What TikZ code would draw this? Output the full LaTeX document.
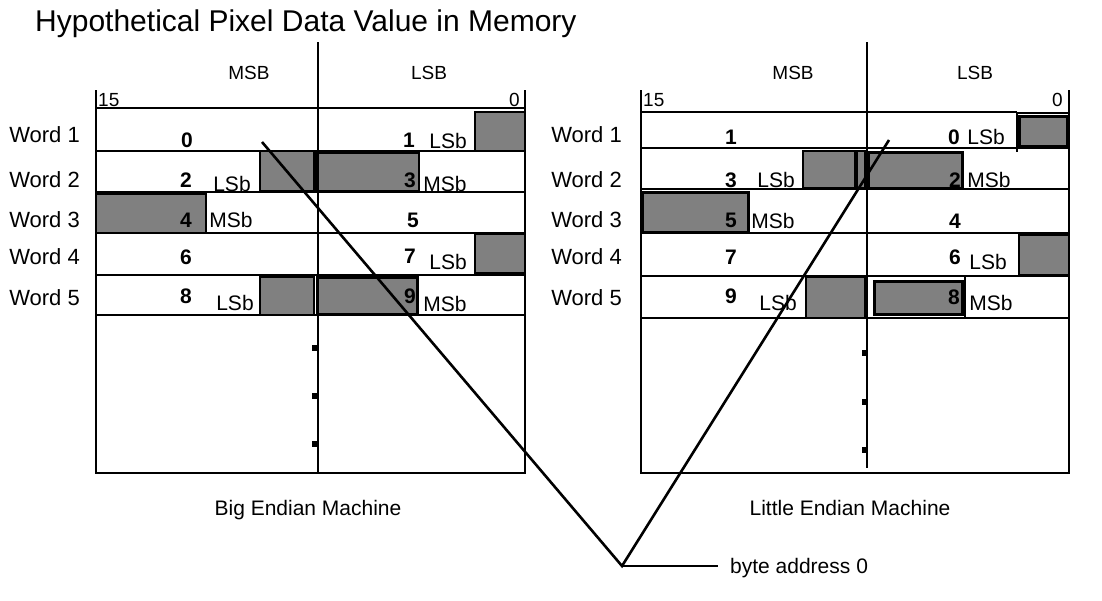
\documentclass[tikz,border=0pt]{standalone}
\usepackage{fontspec}
\setmainfont{Liberation Sans}
\definecolor{cellgray}{RGB}{128,128,128}
\begin{document}
\begin{tikzpicture}[x=1pt,y=-1pt,
  frame/.style={line width=2pt},
  rowline/.style={line width=2pt},
  grayc/.style={fill=cellgray,draw=black,line width=1.5pt},
  graythick/.style={fill=cellgray,draw=black,line width=3pt},
  txt/.style={inner sep=0pt,font=\fontsize{21}{25}\selectfont},
  wlab/.style={inner sep=0pt,anchor=east,font=\fontsize{22}{26}\selectfont},
  num/.style={inner sep=0pt,font=\fontsize{21}{25}\selectfont\bfseries},
  small/.style={inner sep=0pt,font=\fontsize{19}{23}\selectfont},
  tick/.style={fill=black},
  conn/.style={line width=2.6pt}]
\useasboundingbox (0,0) rectangle (1102,600);
\fill[white] (0,0) rectangle (1102,600);

% title
\node[inner sep=0pt,anchor=base west,font=\fontsize{30}{34}\selectfont] (title) at (35,31) {Hypothetical Pixel Data Value in Memory};

% ================= Big endian panel =================
\draw[grayc] (475,112) rectangle (525,151);
\draw[grayc] (260,151) rectangle (314,191);
\draw[grayc] (318,153) rectangle (419,191);
\draw[grayc] (96,194) rectangle (206,233);
\draw[grayc] (475,234) rectangle (525,273);
\draw[grayc] (260,277) rectangle (314,315);
\draw[graythick] (317,277) rectangle (417,314);
\foreach \y in {108,151,192,233,274.5,315} \draw[rowline] (96,\y) -- (525,\y);
\draw[line width=3pt] (316,151) -- (316,191);
\draw[frame] (96,90) -- (96,473) -- (525,473) -- (525,90);
\draw[frame] (318,42) -- (318,473);
\foreach \y in {348,396,444} \fill[tick] (312,\y-3) rectangle (318,\y+3);
\node[small] (bmsb) at (249,73) {MSB};
\node[small] (blsb) at (429,73) {LSB};
\node[small,anchor=west] (b15) at (98,100) {15};
\node[small,anchor=east] (b0) at (520,100) {0};
\node[wlab] (bw1) at (80,135) {Word 1};
\node[wlab] (bw2) at (80,180) {Word 2};
\node[wlab] (bw3) at (80,220) {Word 3};
\node[wlab] (bw4) at (80,257) {Word 4};
\node[wlab] (bw5) at (80,298) {Word 5};
\node[num] (bb0) at (187,140) {0};
\node[num] (bb1) at (409,140) {1};
\node[txt] (bl1) at (448,141) {LSb};
\node[num] (bb2) at (186,180) {2};
\node[txt] (bl2) at (232,184) {LSb};
\node[num] (bb3) at (410,180) {3};
\node[txt] (bm3) at (445,184) {MSb};
\node[num] (bb4) at (186,220) {4};
\node[txt] (bm4) at (231,220) {MSb};
\node[num] (bb5) at (413,220) {5};
\node[num] (bb6) at (186,257) {6};
\node[num] (bb7) at (410,256) {7};
\node[txt] (bl7) at (448,262) {LSb};
\node[num] (bb8) at (186,296) {8};
\node[txt] (bl8) at (235,303) {LSb};
\node[num] (bb9) at (410,296) {9};
\node[txt] (bm9) at (445,304) {MSb};
\node[txt,anchor=base] (bcap) at (308,515) {Big Endian Machine};

% ================= Little endian panel =================
\draw[graythick] (1019,116) rectangle (1067,146);
\draw[grayc] (803,151) rectangle (855,188);
\draw[grayc] (857,151) rectangle (865,188);
\draw[graythick] (868,152) rectangle (962,188);
\draw[graythick] (642,192) rectangle (748,232);
\draw[grayc] (1019,235) rectangle (1069,275);
\draw[grayc] (806,277) rectangle (865,318);
\draw[graythick] (874,281) rectangle (962,314);
\foreach \y in {148,189,233,276,318} \draw[rowline] (641,\y) -- (1069,\y);
\draw[rowline] (641,112) -- (1017,112);
\draw[line width=1.2pt] (1017,113) -- (1069,113);
\draw[line width=1.5pt] (1017,112) -- (1017,152);
\draw[line width=3pt] (866,277) -- (866,318);
\draw[line width=1.5pt] (965,277) -- (965,318);
\draw[frame] (641,90) -- (641,473) -- (1069,473) -- (1069,90);
\draw[frame] (867,42) -- (867,468);
\foreach \y in {353,402,450} \fill[tick] (862,\y-3) rectangle (867,\y+3);
\node[small] (lmsb) at (793,73) {MSB};
\node[small] (llsb) at (975,73) {LSB};
\node[small,anchor=west] (l15) at (643,100) {15};
\node[small,anchor=east] (l0) at (1063,100) {0};
\node[wlab] (lw1) at (622,135) {Word 1};
\node[wlab] (lw2) at (622,180) {Word 2};
\node[wlab] (lw3) at (622,220) {Word 3};
\node[wlab] (lw4) at (622,257) {Word 4};
\node[wlab] (lw5) at (622,298) {Word 5};
\node[num] (lb1) at (731,137) {1};
\node[num] (lb0) at (954,137) {0};
\node[txt] (ll0) at (986,137) {LSb};
\node[num] (lb3) at (731,180) {3};
\node[txt] (ll3) at (776,180) {LSb};
\node[num] (lb2) at (955,180) {2};
\node[txt] (lm2) at (989,180) {MSb};
\node[num] (lb5) at (731,220) {5};
\node[txt] (lm5) at (773,221) {MSb};
\node[num] (lb4) at (955,221) {4};
\node[num] (lb7) at (731,257) {7};
\node[num] (lb6) at (955,257) {6};
\node[txt] (ll6) at (988,262) {LSb};
\node[num] (lb9) at (731,296) {9};
\node[txt] (ll9) at (778,303) {LSb};
\node[num] (lb8) at (954,297) {8};
\node[txt] (lm8) at (991,303) {MSb};
\node[txt,anchor=base] (lcap) at (850,515) {Little Endian Machine};

% ================= byte address connectors =================
\coordinate (be0) at (262,142);
\coordinate (le0) at (889,140);
\coordinate (ba) at (622,566);
\coordinate (baend) at (718,566);
\node[txt,anchor=base west] (batext) at (730,573) {byte address 0};
\draw[conn,line join=miter] (be0) -- (ba) -- (le0);
\draw[line width=2pt] (ba) -- (baend);
\end{tikzpicture}
\end{document}
